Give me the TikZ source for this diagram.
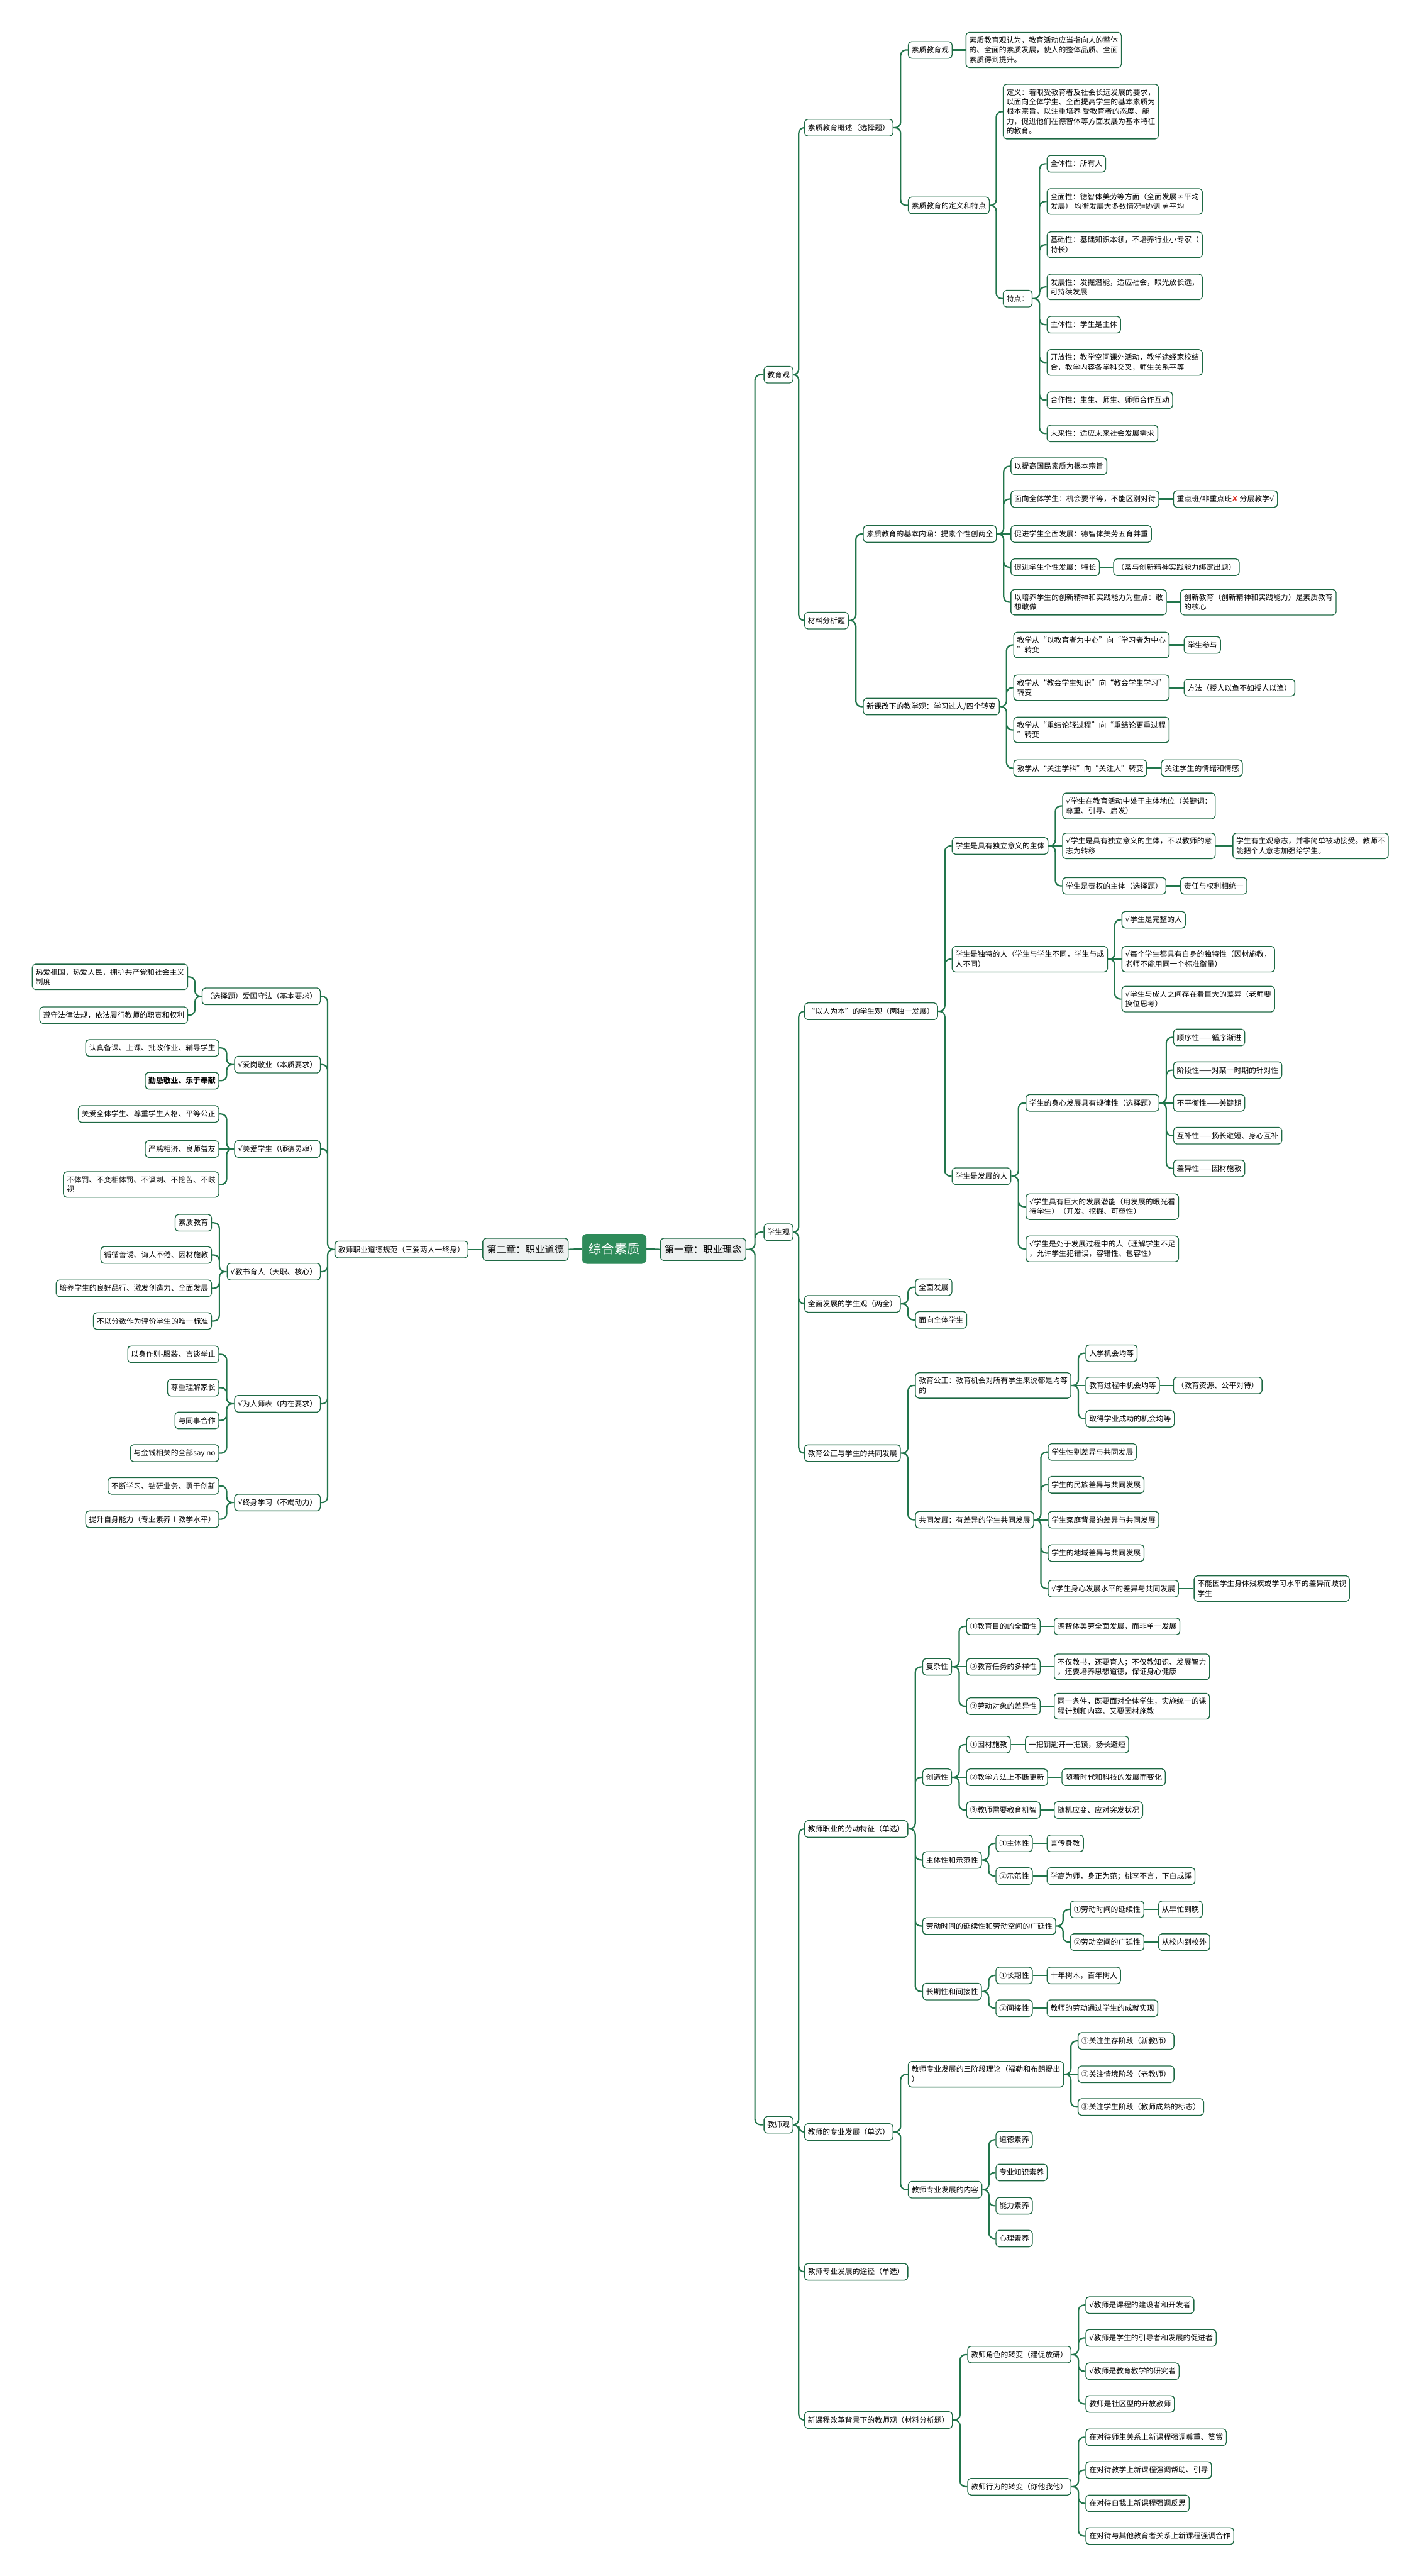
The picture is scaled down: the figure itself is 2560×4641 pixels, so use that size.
\documentclass[tikz,border=0pt]{standalone}
\usepackage{fontspec}
\setmainfont{Noto Sans CJK SC}
\newfontfamily\symfont{DejaVu Sans}
\usetikzlibrary{calc}

\definecolor{lnk}{RGB}{34,118,76}
\definecolor{bdr}{RGB}{30,105,68}
\definecolor{rootg}{RGB}{46,139,90}
\definecolor{chapg}{RGB}{238,241,241}
\definecolor{xred}{RGB}{222,52,40}

\newcommand{\ck}{{\symfont √}}

\tikzset{
  bx/.style={draw=bdr, line width=0.75pt, rounded corners=3pt, fill=white,
    inner xsep=3pt, inner ysep=4pt, minimum height=15pt, align=left,
    font=\fontsize{6.7}{8.75}\selectfont},
  rbx/.style={bx, anchor=west},
  lbx/.style={bx, anchor=east},
  chap/.style={bx, fill=chapg, align=center, minimum width=77pt, minimum height=20pt,
    font=\fontsize{8.7}{10}\selectfont},
  rootbx/.style={draw=rootg, fill=rootg, text=white, rounded corners=4pt,
    minimum width=57.5pt, minimum height=26.5pt, font=\fontsize{11.5}{13}\selectfont},
  link/.style={draw=lnk, line width=1.25pt, rounded corners=5pt,
    to path={-- ($(\tikztostart)!0.5!(\tikztostart -| \tikztotarget)$) |- (\tikztotarget)}},
}

\begin{document}
\begin{tikzpicture}[x=0.5pt,y=0.5pt,yscale=-1,xscale=1]
\useasboundingbox (0,0) rectangle (2560,4641);
\fill[white] (0,0) rectangle (2560,4641);

% centre
\node[rootbx] (root) at (1107,2250) {综合素质};
\node[chap] (ch1) at (1267,2251) {第一章：职业理念};
\node[chap] (ch2) at (947,2251) {第二章：职业道德};
\node[lbx] (norm) at (844,2251) {教师职业道德规范（三爱两人一终身）};

% Text Node: level 2
\node[rbx] (jyg) at (1376,675) {教育观};
\node[rbx] (xsg) at (1376,2220) {学生观};
\node[rbx] (jsg) at (1376,3828) {教师观};

% 教育观
\node[rbx] (gs) at (1449,230) {素质教育概述（选择题）};
\node[rbx] (sg) at (1636,90) {素质教育观};
\node[rbx] (sgd) at (1740,90) {素质教育观认为，教育活动应当指向人的整体\\的、全面的素质发展，使人的整体品质、全面\\素质得到提升。};
\node[rbx] (dt) at (1636,370) {素质教育的定义和特点};
\node[rbx] (def) at (1807,201) {定义：着眼受教育者及社会长远发展的要求，\\以面向全体学生、全面提高学生的基本素质为\\根本宗旨，以注重培养 受教育者的态度、能\\力，促进他们在德智体等方面发展为基本特征\\的教育。};
\node[rbx] (td) at (1807,538) {特点：};
\node[rbx] (f1) at (1886,295) {全体性：所有人};
\node[rbx] (f2) at (1886,363) {全面性：德智体美劳等方面（全面发展≠平均\\发展） 均衡发展大多数情况=协调 ≠平均};
\node[rbx] (f3) at (1886,441) {基础性：基础知识本领，不培养行业小专家（\\特长）};
\node[rbx] (f4) at (1886,517) {发展性：发掘潜能，适应社会，眼光放长远，\\可持续发展};
\node[rbx] (f5) at (1886,585) {主体性：学生是主体};
\node[rbx] (f6) at (1886,653) {开放性：教学空间课外活动，教学途经家校结\\合，教学内容各学科交叉，师生关系平等};
\node[rbx] (f7) at (1886,721) {合作性：生生、师生、师师合作互动};
\node[rbx] (f8) at (1886,781) {未来性：适应未来社会发展需求};

\node[rbx] (cl) at (1449,1118) {材料分析题};
\node[rbx] (nh) at (1555,962) {素质教育的基本内涵：提素个性创两全};
\node[rbx] (n1) at (1821,840) {以提高国民素质为根本宗旨};
\node[rbx] (n2) at (1821,899) {面向全体学生：机会要平等，不能区别对待};
\node[rbx] (n2a) at (2114,899) {重点班/非重点班{\symfont\textcolor{xred}{✘}} 分层教学\ck};
\node[rbx] (n3) at (1821,962) {促进学生全面发展：德智体美劳五育并重};
\node[rbx] (n4) at (1821,1022) {促进学生个性发展：特长};
\node[rbx] (n4a) at (2006,1022) {（常与创新精神实践能力绑定出题）};
\node[rbx] (n5) at (1821,1085) {以培养学生的创新精神和实践能力为重点：敢\\想敢做};
\node[rbx] (n5a) at (2127,1085) {创新教育（创新精神和实践能力）是素质教育\\的核心};
\node[rbx] (xk) at (1555,1273) {新课改下的教学观：学习过人/四个转变};
\node[rbx] (k1) at (1826,1162) {教学从“以教育者为中心”向“学习者为中心\\”转变};
\node[rbx] (k1a) at (2133,1162) {学生参与};
\node[rbx] (k2) at (1826,1239) {教学从“教会学生知识”向“教会学生学习”\\转变};
\node[rbx] (k2a) at (2133,1239) {方法（授人以鱼不如授人以渔）};
\node[rbx] (k3) at (1826,1315) {教学从“重结论轻过程”向“重结论更重过程\\”转变};
\node[rbx] (k4) at (1826,1384) {教学从“关注学科”向“关注人”转变};
\node[rbx] (k4a) at (2092,1384) {关注学生的情绪和情感};

% 学生观
\node[rbx] (yr) at (1449,1822) {“以人为本”的学生观（两独一发展）};
\node[rbx] (zt) at (1715,1524) {学生是具有独立意义的主体};
\node[rbx] (z1) at (1914,1452) {\ck 学生在教育活动中处于主体地位（关键词：\\尊重、引导、启发）};
\node[rbx] (z2) at (1914,1524) {\ck 学生是具有独立意义的主体，不以教师的意\\志为转移};
\node[rbx] (z2a) at (2221,1524) {学生有主观意志，并非简单被动接受。教师不\\能把个人意志加强给学生。};
\node[rbx] (z3) at (1914,1596) {学生是责权的主体（选择题）};
\node[rbx] (z3a) at (2127,1596) {责任与权利相统一};
\node[rbx] (dr) at (1715,1728) {学生是独特的人（学生与学生不同，学生与成\\人不同）};
\node[rbx] (d1) at (2021,1657) {\ck 学生是完整的人};
\node[rbx] (d2) at (2021,1728) {\ck 每个学生都具有自身的独特性（因材施教，\\老师不能用同一个标准衡量）};
\node[rbx] (d3) at (2021,1800) {\ck 学生与成人之间存在着巨大的差异（老师要\\换位思考）};
\node[rbx] (fr) at (1715,2119) {学生是发展的人};
\node[rbx] (gl) at (1848,1987) {学生的身心发展具有规律性（选择题）};
\node[rbx] (g1) at (2114,1869) {顺序性——循序渐进};
\node[rbx] (g2) at (2114,1928) {阶段性——对某一时期的针对性};
\node[rbx] (g3) at (2114,1987) {不平衡性——关键期};
\node[rbx] (g4) at (2114,2046) {互补性——扬长避短、身心互补};
\node[rbx] (g5) at (2114,2105) {差异性——因材施教};
\node[rbx] (fq) at (1848,2174) {\ck 学生具有巨大的发展潜能（用发展的眼光看\\待学生）（开发、挖掘、可塑性）};
\node[rbx] (fg) at (1848,2250) {\ck 学生是处于发展过程中的人（理解学生不足\\，允许学生犯错误，容错性、包容性）};
\node[rbx] (qm) at (1449,2349) {全面发展的学生观（两全）};
\node[rbx] (q1) at (1649,2319) {全面发展};
\node[rbx] (q2) at (1649,2378) {面向全体学生};
\node[rbx] (gz) at (1449,2618) {教育公正与学生的共同发展};
\node[rbx] (jz) at (1649,2496) {教育公正：教育机会对所有学生来说都是均等\\的};
\node[rbx] (j1) at (1956,2438) {入学机会均等};
\node[rbx] (j2) at (1956,2496) {教育过程中机会均等};
\node[rbx] (j2a) at (2114,2496) {（教育资源、公平对待）};
\node[rbx] (j3) at (1956,2556) {取得学业成功的机会均等};
\node[rbx] (gt) at (1649,2738) {共同发展：有差异的学生共同发展};
\node[rbx] (t1) at (1888,2616) {学生性别差异与共同发展};
\node[rbx] (t2) at (1888,2675) {学生的民族差异与共同发展};
\node[rbx] (t3) at (1888,2738) {学生家庭背景的差异与共同发展};
\node[rbx] (t4) at (1888,2798) {学生的地域差异与共同发展};
\node[rbx] (t5) at (1888,2862) {\ck 学生身心发展水平的差异与共同发展};
\node[rbx] (t5a) at (2151,2862) {不能因学生身体残疾或学习水平的差异而歧视\\学生};

% 教师观
\node[rbx] (ld) at (1449,3295) {教师职业的劳动特征（单选）};
\node[rbx] (fz) at (1662,3003) {复杂性};
\node[rbx] (fz1) at (1741,2930) {①教育目的的全面性};
\node[rbx] (fz1a) at (1899,2930) {德智体美劳全面发展，而非单一发展};
\node[rbx] (fz2) at (1741,3003) {②教育任务的多样性};
\node[rbx] (fz2a) at (1899,3003) {不仅教书，还要育人；不仅教知识、发展智力\\，还要培养思想道德，保证身心健康};
\node[rbx] (fz3) at (1741,3074) {③劳动对象的差异性};
\node[rbx] (fz3a) at (1899,3074) {同一条件，既要面对全体学生，实施统一的课\\程计划和内容，又要因材施教};
\node[rbx] (cz) at (1662,3202) {创造性};
\node[rbx] (cz1) at (1741,3143) {①因材施教};
\node[rbx] (cz1a) at (1847,3143) {一把钥匙开一把锁，扬长避短};
\node[rbx] (cz2) at (1741,3202) {②教学方法上不断更新};
\node[rbx] (cz2a) at (1913,3202) {随着时代和科技的发展而变化};
\node[rbx] (cz3) at (1741,3261) {③教师需要教育机智};
\node[rbx] (cz3a) at (1899,3261) {随机应变、应对突发状况};
\node[rbx] (sf) at (1662,3351) {主体性和示范性};
\node[rbx] (sf1) at (1794,3321) {①主体性};
\node[rbx] (sf1a) at (1886,3321) {言传身教};
\node[rbx] (sf2) at (1794,3380) {②示范性};
\node[rbx] (sf2a) at (1886,3380) {学高为师，身正为范；桃李不言，下自成蹊};
\node[rbx] (yx) at (1662,3470) {劳动时间的延续性和劳动空间的广延性};
\node[rbx] (yx1) at (1928,3440) {①劳动时间的延续性};
\node[rbx] (yx1a) at (2087,3440) {从早忙到晚};
\node[rbx] (yx2) at (1928,3499) {②劳动空间的广延性};
\node[rbx] (yx2a) at (2087,3499) {从校内到校外};
\node[rbx] (cq) at (1662,3588) {长期性和间接性};
\node[rbx] (cq1) at (1794,3559) {①长期性};
\node[rbx] (cq1a) at (1886,3559) {十年树木，百年树人};
\node[rbx] (cq2) at (1794,3618) {②间接性};
\node[rbx] (cq2a) at (1886,3618) {教师的劳动通过学生的成就实现};

\node[rbx] (zy) at (1449,3841) {教师的专业发展（单选）};
\node[rbx] (sj) at (1636,3737) {教师专业发展的三阶段理论（福勒和布朗提出\\）};
\node[rbx] (s1) at (1942,3677) {①关注生存阶段（新教师）};
\node[rbx] (s2) at (1942,3737) {②关注情境阶段（老教师）};
\node[rbx] (s3) at (1942,3796) {③关注学生阶段（教师成熟的标志）};
\node[rbx] (nr) at (1636,3945) {教师专业发展的内容};
\node[rbx] (r1) at (1794,3855) {道德素养};
\node[rbx] (r2) at (1794,3914) {专业知识素养};
\node[rbx] (r3) at (1794,3974) {能力素养};
\node[rbx] (r4) at (1794,4033) {心理素养};
\node[rbx] (tj) at (1449,4093) {教师专业发展的途径（单选）};
\node[rbx] (xg) at (1449,4360) {新课程改革背景下的教师观（材料分析题）};
\node[rbx] (js) at (1743,4242) {教师角色的转变（建促放研）};
\node[rbx] (js1) at (1956,4153) {\ck 教师是课程的建设者和开发者};
\node[rbx] (js2) at (1956,4212) {\ck 教师是学生的引导者和发展的促进者};
\node[rbx] (js3) at (1956,4272) {\ck 教师是教育教学的研究者};
\node[rbx] (js4) at (1956,4331) {教师是社区型的开放教师};
\node[rbx] (xw) at (1743,4480) {教师行为的转变（你他我他）};
\node[rbx] (xw1) at (1956,4391) {在对待师生关系上新课程强调尊重、赞赏};
\node[rbx] (xw2) at (1956,4450) {在对待教学上新课程强调帮助、引导};
\node[rbx] (xw3) at (1956,4510) {在对待自我上新课程强调反思};
\node[rbx] (xw4) at (1956,4569) {在对待与其他教育者关系上新课程强调合作};

% 第二章 (left side)
\node[lbx] (a1) at (578,1795) {（选择题）爱国守法（基本要求）};
\node[lbx] (a1a) at (339,1760) {热爱祖国，热爱人民，拥护共产党和社会主义\\制度};
\node[lbx] (a1b) at (339,1829) {遵守法律法规，依法履行教师的职责和权利};
\node[lbx] (a2) at (578,1918) {\ck 爱岗敬业（本质要求）};
\node[lbx] (a2a) at (395,1888) {认真备课、上课、批改作业、辅导学生};
\node[lbx] (a2b) at (395,1947) {\bfseries 勤恳敬业、乐于奉献};
\node[lbx] (a3) at (578,2070) {\ck 关爱学生（师德灵魂）};
\node[lbx] (a3a) at (395,2007) {关爱全体学生、尊重学生人格、平等公正};
\node[lbx] (a3b) at (395,2070) {严慈相济、良师益友};
\node[lbx] (a3c) at (395,2134) {不体罚、不变相体罚、不讽刺、不挖苦、不歧\\视};
\node[lbx] (a4) at (578,2291) {\ck 教书育人（天职、核心）};
\node[lbx] (a4a) at (382,2203) {素质教育};
\node[lbx] (a4b) at (382,2261) {循循善诱、诲人不倦、因材施教};
\node[lbx] (a4c) at (382,2321) {培养学生的良好品行、激发创造力、全面发展};
\node[lbx] (a4d) at (382,2380) {不以分数作为评价学生的唯一标准};
\node[lbx] (a5) at (578,2529) {\ck 为人师表（内在要求）};
\node[lbx] (a5a) at (395,2440) {以身作则-服装、言谈举止};
\node[lbx] (a5b) at (395,2500) {尊重理解家长};
\node[lbx] (a5c) at (395,2559) {与同事合作};
\node[lbx] (a5d) at (395,2618) {与金钱相关的全部say no};
\node[lbx] (a6) at (578,2707) {\ck 终身学习（不竭动力）};
\node[lbx] (a6a) at (395,2677) {不断学习、钻研业务、勇于创新};
\node[lbx] (a6b) at (395,2737) {提升自身能力（专业素养＋教学水平）};

% Straight Lines and branches
\draw[link] (root.east) -- (ch1.west);
\draw[link] (root.west) -- (ch2.east);
\draw[link] (ch2.west) -- (norm.east);
\draw[link] (ch1.east) to (jyg.west) (ch1.east) to (xsg.west) (ch1.east) to (jsg.west);

\draw[link] (jyg.east) to (gs.west) (jyg.east) to (cl.west);
\draw[link] (gs.east) to (sg.west) (gs.east) to (dt.west);
\draw[link] (sg.east) -- (sgd.west);
\draw[link] (dt.east) to (def.west) (dt.east) to (td.west);
\draw[link] (td.east) to (f1.west) (td.east) to (f2.west) (td.east) to (f3.west) (td.east) to (f4.west)
  (td.east) to (f5.west) (td.east) to (f6.west) (td.east) to (f7.west) (td.east) to (f8.west);
\draw[link] (cl.east) to (nh.west) (cl.east) to (xk.west);
\draw[link] (nh.east) to (n1.west) (nh.east) to (n2.west) (nh.east) to (n4.west) (nh.east) to (n5.west);
\draw[link] (nh.east) -- (n3.west);
\draw[link] (n2.east) -- (n2a.west);
\draw[link] (n4.east) -- (n4a.west);
\draw[link] (n5.east) -- (n5a.west);
\draw[link] (xk.east) to (k1.west) (xk.east) to (k2.west) (xk.east) to (k3.west) (xk.east) to (k4.west);
\draw[link] (k1.east) -- (k1a.west);
\draw[link] (k2.east) -- (k2a.west);
\draw[link] (k4.east) -- (k4a.west);

\draw[link] (xsg.east) to (yr.west) (xsg.east) to (qm.west) (xsg.east) to (gz.west);
\draw[link] (yr.east) to (zt.west) (yr.east) to (dr.west) (yr.east) to (fr.west);
\draw[link] (zt.east) to (z1.west) (zt.east) to (z3.west);
\draw[link] (zt.east) -- (z2.west);
\draw[link] (z2.east) -- (z2a.west);
\draw[link] (z3.east) -- (z3a.west);
\draw[link] (dr.east) to (d1.west) (dr.east) to (d3.west);
\draw[link] (dr.east) -- (d2.west);
\draw[link] (fr.east) to (gl.west) (fr.east) to (fq.west) (fr.east) to (fg.west);
\draw[link] (gl.east) to (g1.west) (gl.east) to (g2.west) (gl.east) to (g4.west) (gl.east) to (g5.west);
\draw[link] (gl.east) -- (g3.west);
\draw[link] (qm.east) to (q1.west) (qm.east) to (q2.west);
\draw[link] (gz.east) to (jz.west) (gz.east) to (gt.west);
\draw[link] (jz.east) to (j1.west) (jz.east) to (j3.west);
\draw[link] (jz.east) -- (j2.west);
\draw[link] (j2.east) -- (j2a.west);
\draw[link] (gt.east) to (t1.west) (gt.east) to (t2.west) (gt.east) to (t4.west) (gt.east) to (t5.west);
\draw[link] (gt.east) -- (t3.west);
\draw[link] (t5.east) -- (t5a.west);

\draw[link] (jsg.east) to (ld.west) (jsg.east) to (zy.west) (jsg.east) to (tj.west) (jsg.east) to (xg.west);
\draw[link] (ld.east) to (fz.west) (ld.east) to (cz.west) (ld.east) to (sf.west) (ld.east) to (yx.west) (ld.east) to (cq.west);
\draw[link] (fz.east) to (fz1.west) (fz.east) to (fz3.west);
\draw[link] (fz.east) -- (fz2.west);
\draw[link] (fz1.east) -- (fz1a.west);
\draw[link] (fz2.east) -- (fz2a.west);
\draw[link] (fz3.east) -- (fz3a.west);
\draw[link] (cz.east) to (cz1.west) (cz.east) to (cz3.west);
\draw[link] (cz.east) -- (cz2.west);
\draw[link] (cz1.east) -- (cz1a.west);
\draw[link] (cz2.east) -- (cz2a.west);
\draw[link] (cz3.east) -- (cz3a.west);
\draw[link] (sf.east) to (sf1.west) (sf.east) to (sf2.west);
\draw[link] (sf1.east) -- (sf1a.west);
\draw[link] (sf2.east) -- (sf2a.west);
\draw[link] (yx.east) to (yx1.west) (yx.east) to (yx2.west);
\draw[link] (yx1.east) -- (yx1a.west);
\draw[link] (yx2.east) -- (yx2a.west);
\draw[link] (cq.east) to (cq1.west) (cq.east) to (cq2.west);
\draw[link] (cq1.east) -- (cq1a.west);
\draw[link] (cq2.east) -- (cq2a.west);
\draw[link] (zy.east) to (sj.west) (zy.east) to (nr.west);
\draw[link] (sj.east) to (s1.west) (sj.east) to (s3.west);
\draw[link] (sj.east) -- (s2.west);
\draw[link] (nr.east) to (r1.west) (nr.east) to (r2.west) (nr.east) to (r3.west) (nr.east) to (r4.west);
\draw[link] (xg.east) to (js.west) (xg.east) to (xw.west);
\draw[link] (js.east) to (js1.west) (js.east) to (js2.west) (js.east) to (js3.west) (js.east) to (js4.west);
\draw[link] (xw.east) to (xw1.west) (xw.east) to (xw2.west) (xw.east) to (xw3.west) (xw.east) to (xw4.west);

\draw[link] (norm.west) to (a1.east) (norm.west) to (a2.east) (norm.west) to (a3.east)
  (norm.west) to (a4.east) (norm.west) to (a5.east) (norm.west) to (a6.east);
\draw[link] (a1.west) to (a1a.east) (a1.west) to (a1b.east);
\draw[link] (a2.west) to (a2a.east) (a2.west) to (a2b.east);
\draw[link] (a3.west) to (a3a.east) (a3.west) to (a3c.east);
\draw[link] (a3.west) -- (a3b.east);
\draw[link] (a4.west) to (a4a.east) (a4.west) to (a4b.east) (a4.west) to (a4c.east) (a4.west) to (a4d.east);
\draw[link] (a5.west) to (a5a.east) (a5.west) to (a5b.east) (a5.west) to (a5c.east) (a5.west) to (a5d.east);
\draw[link] (a6.west) to (a6a.east) (a6.west) to (a6b.east);

\end{tikzpicture}
\end{document}
